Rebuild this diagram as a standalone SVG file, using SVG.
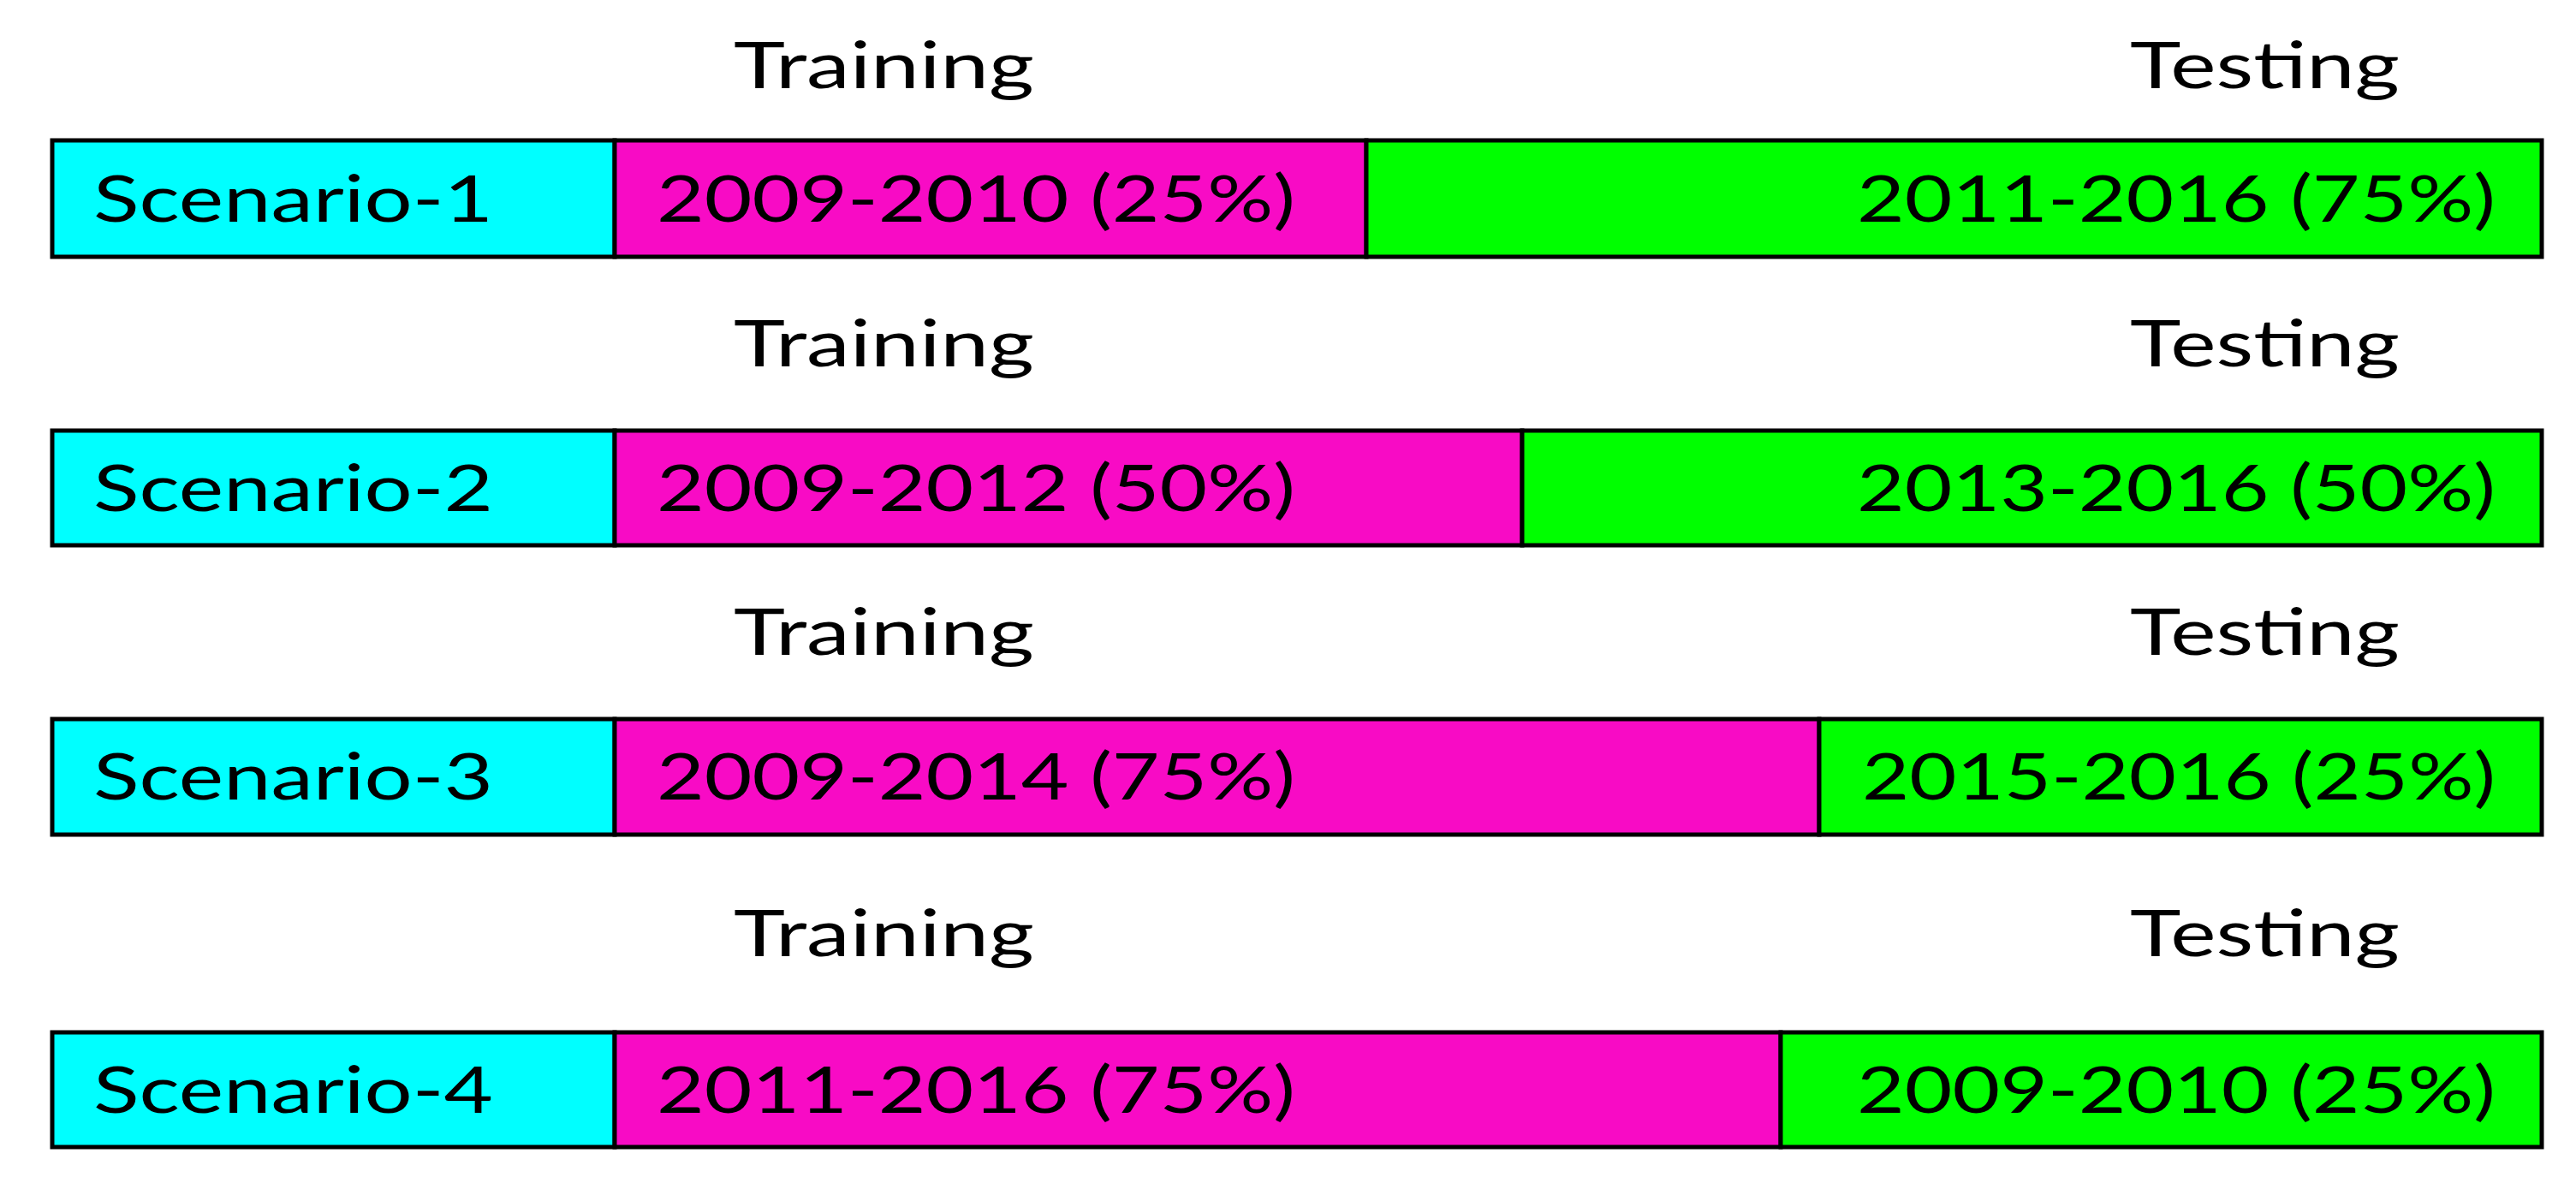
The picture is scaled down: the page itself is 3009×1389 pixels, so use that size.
<svg xmlns="http://www.w3.org/2000/svg" width="3009" height="1389" viewBox="0 0 3009 1389">
<style>
.seg{stroke:#000;stroke-width:5}
.sc{fill:#00FFFF}
.tr{fill:#F80BC5}
.te{fill:#00FF00}
text{font-family:Lato,"Open Sans","Liberation Sans",sans-serif;font-size:76px;fill:#000}
</style>
<rect width="3009" height="1389" fill="#fff"/>
<g id="labels">
<text x="857" y="103" textLength="351" lengthAdjust="spacingAndGlyphs">Training</text>
<text x="2488" y="103" textLength="315" lengthAdjust="spacingAndGlyphs">Testing</text>
<text x="857" y="428" textLength="351" lengthAdjust="spacingAndGlyphs">Training</text>
<text x="2488" y="428" textLength="315" lengthAdjust="spacingAndGlyphs">Testing</text>
<text x="857" y="765" textLength="351" lengthAdjust="spacingAndGlyphs">Training</text>
<text x="2488" y="765" textLength="315" lengthAdjust="spacingAndGlyphs">Testing</text>
<text x="857" y="1117" textLength="351" lengthAdjust="spacingAndGlyphs">Training</text>
<text x="2488" y="1117" textLength="315" lengthAdjust="spacingAndGlyphs">Testing</text>
</g>
<g id="scenario-1">
<rect class="seg sc" x="61" y="164" width="657" height="136"/>
<rect class="seg tr" x="718" y="164" width="878" height="136"/>
<rect class="seg te" x="1596" y="164" width="1373" height="136"/>
<text x="109" y="259" textLength="467" lengthAdjust="spacingAndGlyphs">Scenario-1</text>
<text x="767" y="259" textLength="746" lengthAdjust="spacingAndGlyphs">2009-2010 (25%)</text>
<text x="2915" y="259" text-anchor="end" textLength="746" lengthAdjust="spacingAndGlyphs">2011-2016 (75%)</text>
</g>
<g id="scenario-2">
<rect class="seg sc" x="61" y="503" width="657" height="134"/>
<rect class="seg tr" x="718" y="503" width="1060" height="134"/>
<rect class="seg te" x="1778" y="503" width="1191" height="134"/>
<text x="109" y="597" textLength="467" lengthAdjust="spacingAndGlyphs">Scenario-2</text>
<text x="767" y="597" textLength="746" lengthAdjust="spacingAndGlyphs">2009-2012 (50%)</text>
<text x="2915" y="597" text-anchor="end" textLength="746" lengthAdjust="spacingAndGlyphs">2013-2016 (50%)</text>
</g>
<g id="scenario-3">
<rect class="seg sc" x="61" y="840" width="657" height="135"/>
<rect class="seg tr" x="718" y="840" width="1407" height="135"/>
<rect class="seg te" x="2125" y="840" width="844" height="135"/>
<text x="109" y="934" textLength="467" lengthAdjust="spacingAndGlyphs">Scenario-3</text>
<text x="767" y="934" textLength="746" lengthAdjust="spacingAndGlyphs">2009-2014 (75%)</text>
<text x="2915" y="934" text-anchor="end" textLength="740" lengthAdjust="spacingAndGlyphs">2015-2016 (25%)</text>
</g>
<g id="scenario-4">
<rect class="seg sc" x="61" y="1206" width="657" height="134"/>
<rect class="seg tr" x="718" y="1206" width="1362" height="134"/>
<rect class="seg te" x="2080" y="1206" width="889" height="134"/>
<text x="109" y="1300" textLength="467" lengthAdjust="spacingAndGlyphs">Scenario-4</text>
<text x="767" y="1300" textLength="746" lengthAdjust="spacingAndGlyphs">2011-2016 (75%)</text>
<text x="2915" y="1300" text-anchor="end" textLength="746" lengthAdjust="spacingAndGlyphs">2009-2010 (25%)</text>
</g>
<g id="connectors"></g>
</svg>
